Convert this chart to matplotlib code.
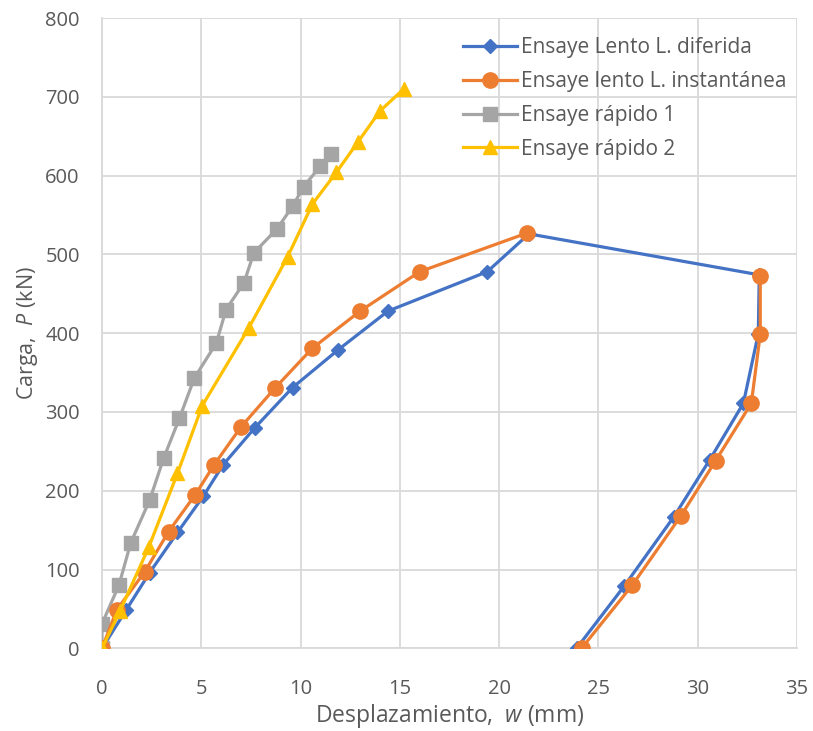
import matplotlib
matplotlib.use("Agg")
import matplotlib.pyplot as plt

plt.rcParams['font.family'] = ['Open Sans', 'DejaVu Sans']
plt.rcParams['mathtext.fontset'] = 'custom'
plt.rcParams['mathtext.it'] = 'Open Sans:italic'
plt.rcParams['mathtext.rm'] = 'Open Sans'

# Desplazamiento w (mm) y carga P (kN) de cada ensaye
lento_dif_w = [0, 1.2, 2.4, 3.8, 5.1, 6.1, 7.7, 9.6, 11.9, 14.4, 19.4, 21.5,
               33.1, 33.05, 32.3, 30.6, 28.8, 26.3, 23.9]
lento_dif_P = [0, 48, 96, 147, 193, 233, 280, 331, 379, 428, 478, 526,
               474, 399, 311, 239, 167, 79, 0]

# carga instantánea: rama de carga y rama de descarga por separado
lento_inst_carga_w = [0, 0.75, 2.15, 3.35, 4.7, 5.65, 7.0, 8.7, 10.6, 13.0, 16.0, 21.4]
lento_inst_carga_P = [0, 49, 97, 148, 195, 233, 281, 330, 381, 428, 478, 527]
lento_inst_desc_w = [33.15, 33.15, 32.7, 30.9, 29.15, 26.7, 24.15]
lento_inst_desc_P = [473, 399, 311, 238, 168, 80, 0]

rapido1_w = [0, 0, 0.85, 1.45, 2.4, 3.1, 3.9, 4.65, 5.75, 6.25, 7.15, 7.65,
             8.8, 9.6, 10.15, 11.0, 11.55]
rapido1_P = [0, 31, 80, 134, 188, 241, 292, 343, 387, 430, 464, 502,
             532, 561, 586, 612, 628]

rapido2_w = [0, 0.9, 2.35, 3.8, 5.05, 7.4, 9.35, 10.6, 11.8, 12.9, 14.0, 15.2]
rapido2_P = [0, 47, 128, 222, 308, 407, 497, 564, 604, 643, 682, 710]

labels = ["Ensaye Lento L. diferida", "Ensaye lento L. instantánea",
          "Ensaye rápido 1", "Ensaye rápido 2"]
x_ticks = [0, 5, 10, 15, 20, 25, 30, 35]
y_ticks = [0, 100, 200, 300, 400, 500, 600, 700, 800]

text_color = "#595959"
c_blue, c_orange, c_gray, c_yellow = "#4472C4", "#ED7D31", "#A5A5A5", "#FFC000"

fig = plt.figure(figsize=(8.13, 7.31), dpi=100)
ax = fig.add_axes([102 / 813, 1 - 648.3 / 731, 695 / 813, (648.3 - 18) / 731])

lw = 2.3
ax.plot(lento_dif_w, lento_dif_P, color=c_blue, lw=lw, marker="D", ms=7.5,
        label=labels[0], zorder=3)
ax.plot(lento_inst_carga_w, lento_inst_carga_P, color=c_orange, lw=lw, marker="o",
        ms=11, label=labels[1], zorder=4)
ax.plot(lento_inst_desc_w, lento_inst_desc_P, color=c_orange, lw=lw, marker="o",
        ms=11, zorder=4)
ax.plot(rapido1_w, rapido1_P, color=c_gray, lw=lw, marker="s", ms=9.5,
        label=labels[2], zorder=3)
ax.plot(rapido2_w, rapido2_P, color=c_yellow, lw=lw, marker="^", ms=10.5,
        label=labels[3], zorder=5)

ax.set_xlim(0, 35)
ax.set_ylim(0, 800)
ax.set_xticks(x_ticks)
ax.set_yticks(y_ticks)
ax.grid(True, color="#D9D9D9", lw=1.3)
ax.set_axisbelow(True)
for s in ("top", "right"):
    ax.spines[s].set_visible(False)
for s in ("left", "bottom"):
    ax.spines[s].set_color("#D9D9D9")
    ax.spines[s].set_linewidth(1.3)
ax.tick_params(length=0, labelsize=14.5, labelcolor=text_color)
ax.tick_params(axis="y", pad=16)
ax.tick_params(axis="x", pad=22)
for lab in ax.get_xticklabels() + ax.get_yticklabels():
    lab.set_clip_on(False)

ax.set_xlabel("Desplazamiento,  $\\mathit{w}$ (mm)", fontsize=16.5, color=text_color, labelpad=2)
ax.set_ylabel("Carga,  $\\mathit{P}$ (kN)", fontsize=15.5, color=text_color, labelpad=4)

leg = ax.legend(loc="upper left", bbox_to_anchor=(463 / 813, 1 - 37 / 731),
                bbox_transform=fig.transFigure, frameon=False, borderpad=0,
                borderaxespad=0, fontsize=15, handlelength=2.6,
                handletextpad=0.2, labelspacing=0.62, labelcolor=text_color)

fig.savefig("out.png", dpi=100)
